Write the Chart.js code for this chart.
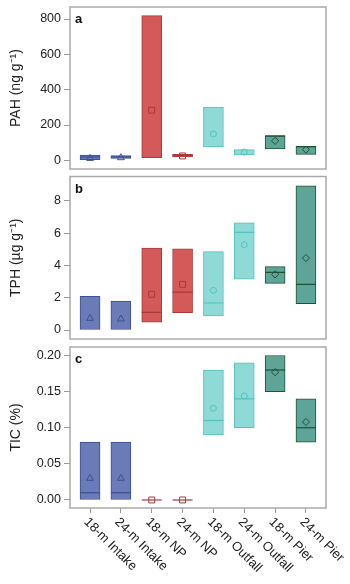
<!DOCTYPE html>
<html>
<head>
<meta charset="utf-8">
<script src="https://cdn.jsdelivr.net/npm/chart.js@4"></script>
<style>
  html, body { margin: 0; padding: 0; background: #fff; }
  body { width: 350px; height: 584px; position: relative; overflow: hidden; }
  canvas { position: absolute; left: 0; }
</style>
</head>
<body>
<canvas id="chartA" width="350" height="175" style="top:0px"></canvas>
<canvas id="chartB" width="350" height="170" style="top:175px"></canvas>
<canvas id="chartC" width="350" height="239" style="top:345px"></canvas>
<script>
const categories = ['18-m Intake', '24-m Intake', '18-m NP', '24-m NP', '18-m Outfall', '24-m Outfall', '18-m Pier', '24-m Pier'];

// PAH (ng g-1)
const pahLow = [4, 11, 15, 19, 76, 30, 64, 34];
const pahHigh = [30, 27, 819, 34, 301, 61, 140, 79];
const pahMedian = [19, 19, null, 28, null, null, 137, 77];
const pahMean = [11, 15, 284, 25, 149, 47, 110, 61];

// TPH (ug g-1)
const tphLow = [0, 0, 0.49, 1.07, 0.87, 3.15, 2.89, 1.63];
const tphHigh = [2.08, 1.79, 5.07, 5.03, 4.85, 6.64, 3.92, 8.93];
const tphMedian = [null, null, 1.09, 2.35, 1.67, 6.04, 3.57, 2.82];
const tphMean = [0.72, 0.68, 2.21, 2.82, 2.45, 5.28, 3.44, 4.45];

// TIC (%)
const ticLow = [0, 0, 0, 0, 0.09, 0.10, 0.15, 0.08];
const ticHigh = [0.08, 0.08, 0, 0, 0.18, 0.19, 0.20, 0.14];
const ticMedian = [0.01, 0.01, 0, 0, 0.11, 0.14, 0.18, 0.10];
const ticMean = [0.03, 0.03, 0, 0, 0.127, 0.144, 0.177, 0.108];

const fillColors = ['#6b7bb8', '#6b7bb8', '#d45a5a', '#d45a5a', '#8ddad6', '#8ddad6', '#5fa597', '#5fa597'];
const lineColors = ['#3d4f95', '#3d4f95', '#a83a3a', '#a83a3a', '#55c2bd', '#55c2bd', '#1d5234', '#1d5234'];
const markerStyles = ['triangle', 'triangle', 'rect', 'rect', 'circle', 'circle', 'rectRot', 'rectRot'];
const markerSizes = [4, 4, 4.2, 4.2, 3, 3, 3.6, 3.6];

Chart.defaults.font.family = "'Liberation Sans', Arial, sans-serif";
Chart.defaults.color = '#222';

// gray frame round the plot area + panel letter
const framePlugin = {
  id: 'frame',
  afterDraw(chart, args, opts) {
    const { ctx, chartArea: a } = chart;
    ctx.save();
    ctx.strokeStyle = '#aaaaaa';
    ctx.lineWidth = 1.5;
    ctx.strokeRect(a.left, a.top, a.right - a.left, a.bottom - a.top);
    ctx.fillStyle = '#111';
    ctx.font = "bold 13px 'Liberation Sans', Arial, sans-serif";
    ctx.textAlign = 'left';
    ctx.textBaseline = 'alphabetic';
    ctx.fillText(opts.letter, a.left + 5, a.top + 16);
    ctx.restore();
  }
};

// slanted category names under the last panel
const slantLabels = {
  id: 'slantLabels',
  afterDraw(chart) {
    const { ctx, scales: { x }, chartArea: a } = chart;
    ctx.save();
    ctx.fillStyle = '#222';
    ctx.font = "13px 'Liberation Sans', Arial, sans-serif";
    ctx.textAlign = 'left';
    ctx.textBaseline = 'middle';
    categories.forEach((c, i) => {
      ctx.save();
      ctx.translate(x.getPixelForValue(i) - 4, a.bottom + 12);
      ctx.rotate(Math.PI / 4);
      ctx.fillText(c, 0, 0);
      ctx.restore();
    });
    ctx.restore();
  }
};

function makePanel(id, letter, low, high, median, mean, yOpts, padding, showX) {
  const boxes = categories.map((c, i) => ({ x: i, y: [low[i], high[i]] }));
  const medians = categories.map((c, i) => ({ x: i, y: median[i] }));
  const means = categories.map((c, i) => ({ x: i, y: mean[i] }));

  return new Chart(document.getElementById(id), {
    type: 'bar',
    data: {
      datasets: [
        {
          type: 'scatter',
          data: means,
          pointStyle: markerStyles,
          radius: markerSizes,
          borderColor: lineColors,
          backgroundColor: 'rgba(0,0,0,0)',
          borderWidth: 1,
          order: 1
        },
        {
          type: 'scatter',
          data: medians,
          pointStyle: 'line',
          radius: 10,
          borderColor: lineColors,
          borderWidth: 1.2,
          order: 2
        },
        {
          type: 'bar',
          data: boxes,
          backgroundColor: fillColors,
          borderColor: lineColors,
          borderWidth: 1,
          borderSkipped: false,
          barThickness: 20,
          order: 3
        }
      ]
    },
    options: {
      responsive: false,
      animation: false,
      layout: { padding: padding, autoPadding: false },
      plugins: {
        legend: { display: false },
        tooltip: { enabled: false },
        frame: { letter: letter }
      },
      scales: {
        x: {
          type: 'linear',
          display: showX,
          offset: false,
          min: -0.65,
          max: 7.65,
          afterFit: s => {
            s.height = showX ? 76 : 0;
            s.paddingLeft = 0;
            s.paddingRight = 0;
          },
          ticks: { display: false, stepSize: 1, includeBounds: false },
          grid: { offset: false, drawOnChartArea: false, tickLength: 5, color: '#999' },
          border: { display: false }
        },
        y: {
          min: yOpts.min,
          max: yOpts.max,
          afterFit: s => {
            s.width = 70;
            s.paddingTop = 0;
            s.paddingBottom = 0;
          },
          title: {
            display: true,
            text: yOpts.title,
            font: { size: 14 },
            padding: { top: 8, bottom: 0 }
          },
          ticks: {
            stepSize: yOpts.step,
            includeBounds: false,
            padding: 3,
            font: { size: 12.5 },
            callback: yOpts.fmt
          },
          grid: { drawOnChartArea: false, tickLength: 6, color: '#999' },
          border: { display: false }
        }
      }
    },
    plugins: showX ? [framePlugin, slantLabels] : [framePlugin]
  });
}

makePanel('chartA', 'a', pahLow, pahHigh, pahMedian, pahMean,
  { min: -49, max: 868, step: 200, title: 'PAH (ng g\u207B\u00B9)', fmt: v => v },
  { top: 7, bottom: 6, left: 0, right: 24 }, false);

makePanel('chartB', 'b', tphLow, tphHigh, tphMedian, tphMean,
  { min: -0.557, max: 9.5, step: 2, title: 'TPH (\u00B5g g\u207B\u00B9)', fmt: v => v },
  { top: 1.5, bottom: 6, left: 0, right: 24 }, false);

makePanel('chartC', 'c', ticLow, ticHigh, ticMedian, ticMean,
  { min: -0.0111, max: 0.2118, step: 0.05, title: 'TIC (%)', fmt: v => v.toFixed(2) },
  { top: 2, bottom: 0, left: 0, right: 24 }, true);
</script>
</body>
</html>
